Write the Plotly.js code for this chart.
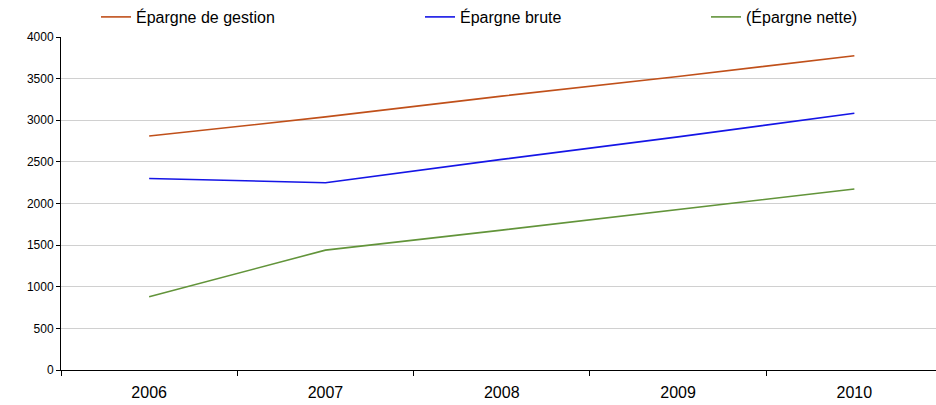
<!DOCTYPE html>
<html><head><meta charset="utf-8">
<script src="https://cdn.plot.ly/plotly-3.0.1.min.js"></script>
<style>html,body{margin:0;padding:0;background:#fff}#chart{width:936px;height:405px}</style>
</head><body><div id="chart"></div>
<script>
const years = ['2006','2007','2008','2009','2010'];
const epargneGestion = [2810, 3040, 3290, 3525, 3775];
const epargneBrute = [2300, 2250, 2530, 2800, 3085];
const epargneNette = [880, 1440, 1680, 1930, 2175];
const seriesNames = ['Épargne de gestion', 'Épargne brute', '(Épargne nette)'];
const seriesColors = ['#C0501A', '#1515E6', '#62943A'];

const fam = 'Liberation Sans, Arial, sans-serif';
const allSeries = [epargneGestion, epargneBrute, epargneNette];
const legendIds = ['legend', 'legend2', 'legend3'];
const traces = allSeries.map((vals, i) => ({
  x: years, y: vals, type: 'scatter', mode: 'lines', name: seriesNames[i],
  line: {color: seriesColors[i], width: 1.6}, legend: legendIds[i], hoverinfo: 'skip'
}));
const legendPx = [96, 420, 706];
const layout = {
  width: 936, height: 405,
  margin: {l: 61, r: 0, t: 37, b: 35},
  paper_bgcolor: '#fff', plot_bgcolor: '#fff',
  font: {family: fam, size: 13, color: '#000'},
  showlegend: true,
  xaxis: {
    type: 'category', range: [-0.5, 4.463], fixedrange: true,
    showline: true, linecolor: '#000', linewidth: 1,
    ticks: 'outside', tickson: 'boundaries', ticklen: 5, tickcolor: '#000',
    showgrid: false, zeroline: false, ticklabelstandoff: 8,
    tickfont: {family: fam, size: 16, color: '#000'}
  },
  yaxis: {
    range: [0, 4000], dtick: 500, fixedrange: true,
    showline: true, linecolor: '#000', linewidth: 1,
    ticks: 'outside', ticklen: 4, tickcolor: '#000',
    showgrid: true, gridcolor: '#D0D0D0', gridwidth: 1, zeroline: false,
    tickfont: {family: fam, size: 12, color: '#000'}
  }
};
legendIds.forEach((id, i) => {
  layout[id] = {
    x: (legendPx[i] - 61) / (936 - 61), xref: 'paper', xanchor: 'left',
    y: 1, yref: 'container', yanchor: 'top',
    orientation: 'h', bgcolor: 'rgba(0,0,0,0)',
    font: {family: fam, size: 16, color: '#000'},
    itemwidth: 30
  };
});
Plotly.newPlot('chart', traces, layout, {displayModeBar: false, staticPlot: true});
</script>
</body></html>
